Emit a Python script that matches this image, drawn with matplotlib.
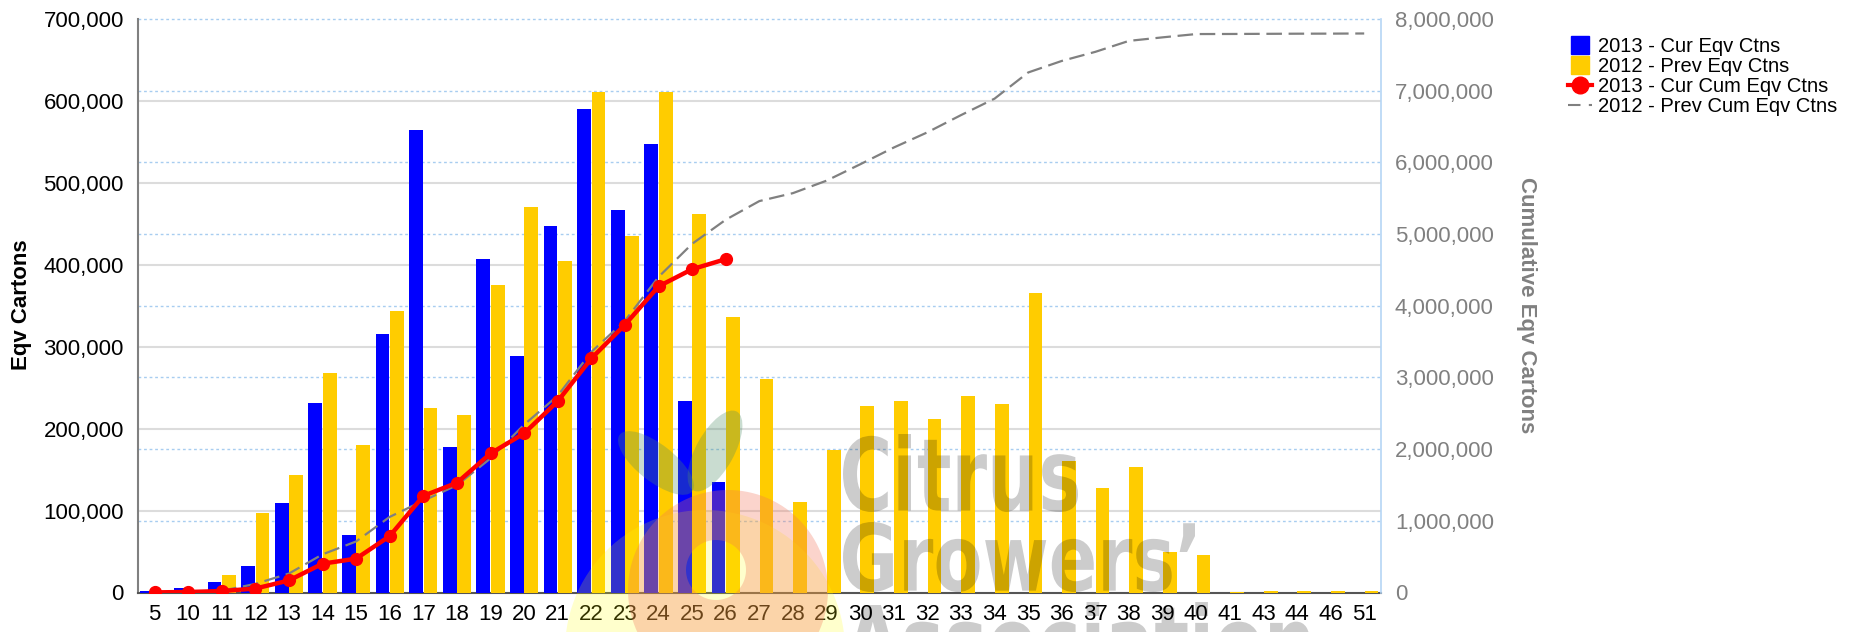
import numpy as np
import matplotlib
matplotlib.use('Agg')
import matplotlib.pyplot as plt
from matplotlib.ticker import FuncFormatter
from matplotlib.lines import Line2D
from matplotlib.patches import PathPatch, Ellipse
from matplotlib.path import Path
from matplotlib.textpath import TextPath
from matplotlib.font_manager import FontProperties
from matplotlib.transforms import Affine2D, blended_transform_factory

plt.rcParams['font.family'] = ['Liberation Sans', 'DejaVu Sans']

# week numbers on the x axis
weeks = ['5', '10', '11', '12', '13', '14', '15', '16', '17', '18', '19', '20',
         '21', '22', '23', '24', '25', '26', '27', '28', '29', '30', '31', '32',
         '33', '34', '35', '36', '37', '38', '39', '40', '41', '43', '44', '46', '51']

# 2013 weekly eqv cartons (only up to week 26)
cur_eqv = [1500, 5000, 13000, 32500, 109000, 231000, 70500, 315500, 564500,
           177500, 407000, 289000, 447000, 590500, 467000, 548000, 233700, 134900]

# 2012 weekly eqv cartons
prev_eqv = [500, 2000, 21700, 96800, 143500, 267900, 179900, 343100, 225100,
            216300, 375100, 470000, 404100, 610500, 434600, 611500, 461600, 336200,
            260500, 110500, 174000, 227800, 233900, 212000, 240000, 230300, 365300,
            160500, 127500, 152800, 49000, 45800, 700, 1800, 1800, 1800, 1800]

# cumulative series (right axis)
cur_cum = [1500, 7000, 20000, 55000, 168000, 402000, 472000, 787000, 1348000,
           1530000, 1940000, 2220000, 2668000, 3265000, 3735000, 4270000, 4510000, 4650000]

prev_cum = [0, 2000, 24000, 120000, 264000, 532000, 712000, 1055000, 1280000,
            1496000, 1871000, 2341000, 2745000, 3356000, 3790000, 4402000, 4864000,
            5200000, 5460000, 5571000, 5745000, 5973000, 6207000, 6419000, 6659000,
            6889000, 7254000, 7415000, 7542000, 7695000, 7744000, 7790000, 7791000,
            7793000, 7795000, 7796000, 7798000]

left_ticks = [0, 100000, 200000, 300000, 400000, 500000, 600000, 700000]
right_ticks = [0, 1000000, 2000000, 3000000, 4000000, 5000000, 6000000, 7000000, 8000000]

W, H = 1864, 632
fig = plt.figure(figsize=(W / 100, H / 100), dpi=100)
box = [137.7 / W, (H - 592.5) / H, (1381 - 137.7) / W, (592.5 - 19) / H]
ax = fig.add_axes(box)
ax2 = ax.twinx()

x = np.arange(len(weeks))
n_cur = len(cur_eqv)
ax.bar(x[:n_cur] - 0.215, cur_eqv, 0.41, color='#0000ff', zorder=3)
ax.bar(x + 0.215, prev_eqv, 0.41, color='#ffcc00', zorder=3)

ax.set_xlim(-0.5, len(weeks) - 0.5)
ax.set_ylim(0, 700000)
ax2.set_ylim(0, 8000000)

# gridlines: solid grey for left axis, dotted blue for right axis
for v in left_ticks[1:-1]:
    ax.axhline(v, color='#dcdcdc', lw=1.5, zorder=1)
rtrans = blended_transform_factory(ax.transAxes, ax2.transData)
for v in right_ticks[1:]:
    ax.add_line(Line2D([0, 1], [v, v], transform=rtrans, color='#a8cdf0',
                       lw=1.0, dashes=(2, 2), zorder=1.5, clip_on=False))

ax2.plot(x, prev_cum, color='#808080', lw=1.6, dashes=(7, 3), zorder=3)
ax2.plot(x[:len(cur_cum)], cur_cum, color='#ff0000', lw=3.2, marker='o', ms=8.5, zorder=4)

fmt = FuncFormatter(lambda v, p: '{:,.0f}'.format(v))
ax.set_yticks(left_ticks)
ax.yaxis.set_major_formatter(fmt)
ax2.set_yticks(right_ticks)
ax2.yaxis.set_major_formatter(fmt)
ax.set_xticks(x)
ax.set_xticklabels(weeks)

ax.tick_params(axis='y', length=0, labelsize=16, pad=10, labelcolor='black')
ax.tick_params(axis='x', length=0, labelsize=16, pad=8, labelcolor='black')
ax2.tick_params(axis='y', length=0, labelsize=16, pad=10, labelcolor='#808080')

for a in (ax, ax2):
    a.spines['top'].set_visible(False)
ax.spines['right'].set_visible(False)
ax.spines['left'].set_color('#808080')
ax.spines['left'].set_linewidth(1.5)
ax.spines['bottom'].set_color('#555555')
ax.spines['bottom'].set_linewidth(1.5)
ax2.spines['left'].set_visible(False)
ax2.spines['bottom'].set_visible(False)
ax2.spines['right'].set_color('#b5d5f5')
ax2.spines['right'].set_linewidth(1.2)

fig.text(22 / W, 1 - 305 / H, 'Eqv Cartons', rotation=90, ha='center', va='center',
         fontsize=16, fontweight='bold', color='black')
fig.text(1526 / W, 1 - 305 / H, 'Cumulative Eqv Cartons', rotation=270, ha='center',
         va='center', fontsize=16, fontweight='bold', color='#808080')

handles = [
    Line2D([], [], ls='none', marker='s', ms=12.5, mfc='#0000ff', mec='#0000ff'),
    Line2D([], [], ls='none', marker='s', ms=12.5, mfc='#ffcc00', mec='#ffcc00'),
    Line2D([], [], color='#ff0000', lw=3, marker='o', ms=12),
    Line2D([], [], color='#808080', lw=1.5, dashes=(6, 4)),
]
labels = ['2013 - Cur Eqv Ctns', '2012 - Prev Eqv Ctns',
          '2013 - Cur Cum Eqv Ctns', '2012 - Prev Cum Eqv Ctns']
fig.legend(handles, labels, loc='upper left', bbox_to_anchor=(1568 / W, 1 - 37 / H),
           frameon=False, fontsize=14.5, handlelength=1.2, handletextpad=0.3,
           labelspacing=0.05, borderpad=0, borderaxespad=0)

# --- watermark (logo + text), drawn on top of everything in pixel space ---
pix = Affine2D().scale(1 / 100) + fig.dpi_scale_trans


def ring(cx, cy, r_out, hx, hy, r_in, n=120):
    t = np.linspace(0, 2 * np.pi, n)
    outer = np.column_stack([cx + r_out * np.cos(t), (H - cy) + r_out * np.sin(t)])
    inner = np.column_stack([hx + r_in * np.cos(-t), (H - hy) + r_in * np.sin(-t)])
    verts = np.vstack([outer, inner])
    codes = ([Path.MOVETO] + [Path.LINETO] * (n - 2) + [Path.CLOSEPOLY]) * 2
    return Path(verts, codes)


fig.add_artist(PathPatch(ring(705, 650, 140, 705, 650, 1), transform=pix,
                         fc=(1, 1, 0), ec='none', alpha=0.2, zorder=10))
fig.add_artist(PathPatch(ring(728, 590, 100, 716, 570, 30), transform=pix,
                         fc=(0.95, 0.45, 0.35), ec='none', alpha=0.3, zorder=11))
fig.add_artist(Ellipse((656, H - 463), 92, 37, angle=-38, transform=pix,
                       fc=(0.3, 0.55, 0.4), ec='none', alpha=0.3, zorder=11))
fig.add_artist(Ellipse((715, H - 451), 90, 38, angle=61, transform=pix,
                       fc=(0.3, 0.55, 0.4), ec='none', alpha=0.3, zorder=11))

wm_font = FontProperties(family='DejaVu Sans', weight='bold', stretch='condensed')


def stamp(text, x0, x1, ytop, ybot):
    tp = TextPath((0, 0), text, size=100, prop=wm_font)
    bb = tp.get_extents()
    tr = (Affine2D().translate(-bb.x0, -bb.y0)
          .scale((x1 - x0) / bb.width, (ybot - ytop) / bb.height)
          .translate(x0, H - ybot))
    fig.add_artist(PathPatch(tr.transform_path(tp), transform=pix, fc='black',
                             ec='none', alpha=0.2, zorder=12))


stamp('Citrus', 843, 1078, 434, 512)
stamp('Growers\u2019', 843, 1195, 522, 592)
stamp('Association', 845, 1310, 602, 678)

fig.savefig('out.png', dpi=100)
